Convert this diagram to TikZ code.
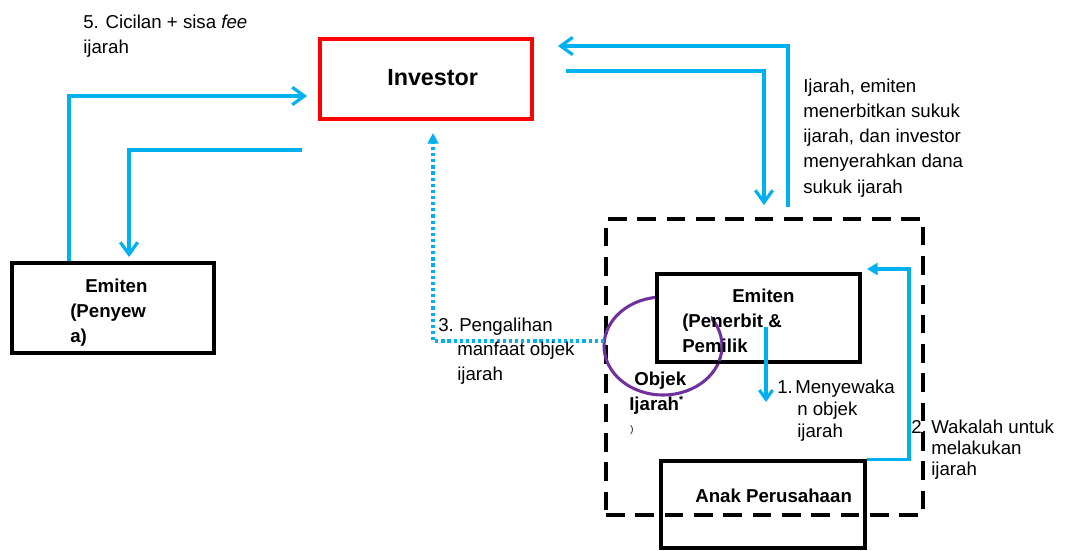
\documentclass[tikz,border=0pt]{standalone}
\usepackage{fontspec}
\setmainfont{Liberation Sans}
\usetikzlibrary{arrows.meta}
\definecolor{cblue}{HTML}{00B0F0}
\definecolor{cpurple}{HTML}{7030A0}
\begin{document}
\begin{tikzpicture}[x=0.75pt,y=-0.75pt,
  txt/.style={font=\fontsize{14}{18.75}\selectfont, anchor=base west, inner sep=0pt},
  btxt/.style={font=\fontsize{14}{18.75}\selectfont\bfseries, anchor=base west, inner sep=0pt},
  box/.style={draw=black, line width=2.6pt, inner sep=0pt},
  flow/.style={draw=cblue, line width=2.4pt, -{Straight Barb[length=9pt,width=13pt]}},
  thinflow/.style={draw=cblue, line width=2.3pt},
  grpbox/.style={draw=black, line width=2.6pt, dash pattern=on 14pt off 8pt, inner sep=0pt}
]
\useasboundingbox (0,0) rectangle (1066,550);

% Investor
\node[draw=red, line width=2.3pt, inner sep=0pt, minimum width=159pt, minimum height=60pt] (inv) at (426,79) {};
\node[font=\fontsize{17.5}{20}\selectfont\bfseries, anchor=base west, inner sep=0pt] (invt) at (387,85) {Investor};

% Emiten (Penyewa)
\node[box, minimum width=151.5pt, minimum height=67.5pt] (em1) at (113,308) {};
\node[btxt] (em1a) at (85,292) {Emiten};
\node[btxt] (em1b) at (70,317) {(Penyew};
\node[btxt] (em1c) at (70,342) {a)};

% text 5
\node[txt] (t5a) at (83,28) {5. Cicilan + sisa \textit{fee}};
\node[txt] (t5b) at (83,53) {ijarah};

% arrows left
\draw[flow] (em1.north -| 69,0) |- (307,96);
\draw[flow] (302,150) -| (129,257);

% dashed group
\node[grpbox, minimum width=237.75pt, minimum height=222pt] (grp) at (764.5,367) {};

% right arrows
\draw[flow] (788,207) |- (558,46);
\draw[flow] (566,71) -| (764,205);
\node[txt] (tr1) at (803,92) {Ijarah, emiten};
\node[txt] (tr2) at (803,117) {menerbitkan sukuk};
\node[txt] (tr3) at (803,142) {ijarah, dan investor};
\node[txt] (tr4) at (803,167) {menyerahkan dana};
\node[txt] (tr5) at (803,193) {sukuk ijarah};

% ellipse and Emiten (Penerbit)
\draw[cpurple, line width=2.3pt] (663,346) ellipse [x radius=44.25pt, y radius=36.75pt];
\node[box, fill=white, minimum width=152.25pt, minimum height=66pt] (em2) at (758.5,318) {};
\begin{scope}
\clip (711,316) rectangle (730,360);
\draw[cpurple, line width=2.3pt] (663,346) ellipse [x radius=44.25pt, y radius=36.75pt];
\end{scope}
\node[btxt] (em2a) at (732,302) {Emiten};
\node[btxt] (em2b) at (682,327) {(Penerbit \&};
\node[btxt] (em2c) at (682,352) {Pemilik};

% objek ijarah
\node[btxt] (ob1) at (634,385) {Objek};
\node[btxt] (ob2) at (629,410) {Ijarah{\fontsize{8}{9}\selectfont\raisebox{5pt}{*}}};
\node[font=\fontsize{7}{8}\selectfont, anchor=base west, inner sep=0pt] (ob3) at (630,432) {)};

% arrow 1
\draw[thinflow, -{Straight Barb[length=7pt,width=10pt]}] (766,327) -- (766,402);
\node[txt] (t1a) at (777,393) {1.};
\node[txt] (t1b) at (795,393) {Menyewaka};
\node[txt] (t1c) at (797,415) {n objek};
\node[txt] (t1d) at (797,437) {ijarah};

% Anak Perusahaan
\node[draw=black, line width=2.3pt, inner sep=0pt, minimum width=153pt, minimum height=65.25pt] (anak) at (763,504.5) {};
\node[btxt] (anakt) at (695,502) {Anak Perusahaan};

% arrow 2
\draw[thinflow, -{Triangle[length=8pt,width=9pt]}] (anak.north east) -| (909,269) -- (867,269);
\node[txt] (t2a) at (911,433) {2.};
\node[txt] (t2b) at (931,433) {Wakalah untuk};
\node[txt] (t2c) at (931,454) {melakukan};
\node[txt] (t2d) at (931,475) {ijarah};

% dotted arrow 3
\draw[cblue, line width=2.6pt, dash pattern=on 2.4pt off 2.2pt, -{Triangle[length=8pt,width=8pt]}] (604,341) -| (433,133);
\node[txt] (t3a) at (438,331) {3.};
\node[txt] (t3b) at (459,331) {Pengalihan};
\node[txt] (t3c) at (457,355) {manfaat objek};
\node[txt] (t3d) at (457,380) {ijarah};
\end{tikzpicture}
\end{document}
